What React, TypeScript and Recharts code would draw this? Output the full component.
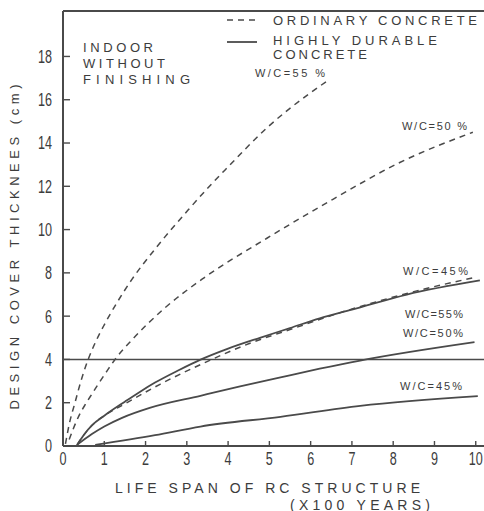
import React from "react";
import { LineChart, Line, XAxis, YAxis, ReferenceLine, Customized } from "recharts";

// life span (x100 years) vs design cover thickness (cm)
const xTicks = [0, 1, 2, 3, 4, 5, 6, 7, 8, 9, 10];
const yTicks = [0, 2, 4, 6, 8, 10, 12, 14, 16, 18];
const requiredCover = 4;

const ordinary55: [number, number][] = [
  [0.06, 0.1], [0.15, 1.0], [0.29, 2.0], [0.45, 3.1], [0.61, 4.0], [0.8, 4.85],
  [1.0, 5.6], [1.3, 6.6], [1.67, 7.7], [2.23, 9.1], [3.03, 10.9], [3.62, 12.15],
  [4.0, 12.9], [4.94, 14.7], [5.98, 16.3], [6.39, 16.85],
];
const ordinary50: [number, number][] = [
  [0.15, 0.3], [0.25, 0.8], [0.4, 1.45], [0.55, 1.95], [0.7, 2.4], [0.85, 2.85],
  [1.06, 3.45], [1.26, 4.0], [1.67, 4.9], [2.48, 6.4], [3.4, 7.75], [4.94, 9.6],
  [6.54, 11.4], [8.16, 13.1], [9.93, 14.5],
];
const ordinary45: [number, number][] = [
  [0.34, 0.05], [0.5, 0.5], [0.7, 0.95], [1.0, 1.4], [1.5, 1.95], [2.35, 2.85],
  [3.49, 3.9], [4.53, 4.75], [5.5, 5.38], [6.7, 6.15], [8.33, 7.05], [10.0, 7.8],
];
const durable55: [number, number][] = [
  [0.34, 0.05], [0.5, 0.5], [0.7, 0.95], [1.0, 1.4], [1.5, 2.05], [1.86, 2.5],
  [2.23, 2.93], [2.8, 3.5], [3.32, 3.98], [4.0, 4.5], [4.77, 5.0], [5.5, 5.45],
  [6.22, 5.9], [7.0, 6.3], [8.33, 7.0], [10.1, 7.65],
];
const durable50: [number, number][] = [
  [0.34, 0.05], [0.7, 0.55], [1.0, 0.9], [1.43, 1.3], [2.1, 1.76], [3.33, 2.32],
  [4.29, 2.75], [5.27, 3.17], [6.22, 3.57], [7.2, 3.95], [9.97, 4.8],
];
const durable45: [number, number][] = [
  [0.78, 0.05], [2.23, 0.5], [3.33, 0.9], [5.27, 1.35], [7.2, 1.85], [10.05, 2.3],
];

const series = [
  { key: "ord55", pts: ordinary55, dashed: true },
  { key: "ord50", pts: ordinary50, dashed: true },
  { key: "ord45", pts: ordinary45, dashed: true },
  { key: "dur55", pts: durable55, dashed: false },
  { key: "dur50", pts: durable50, dashed: false },
  { key: "dur45", pts: durable45, dashed: false },
];

const INK = "#3c3c3c";
const LINE = "#4a4a4a";
const FONT = "'Liberation Sans', Arial, sans-serif";

function XTick({ x, y, payload }: any) {
  const s = String(payload.value);
  return (
    <text x={x} y={y} dy="0.71em" textAnchor="middle" fontSize={18} fontFamily={FONT} fill={INK}
      textLength={s.length * 7} lengthAdjust="spacingAndGlyphs">
      {s}
    </text>
  );
}

function YTick({ x, y, payload }: any) {
  const s = String(payload.value);
  return (
    <text x={x} y={y} dy="0.355em" textAnchor="end" fontSize={18} fontFamily={FONT} fill={INK}
      textLength={s.length * 7} lengthAdjust="spacingAndGlyphs">
      {s}
    </text>
  );
}

function T({ x, y, w, size = 14, children }: any) {
  return (
    <text x={x} y={y} fontSize={size} fontFamily={FONT} fill={INK} textLength={w}
      lengthAdjust="spacing">
      {children}
    </text>
  );
}

function Annotations() {
  return (
    <g>
      {/* legend */}
      <line x1={227} x2={257} y1={20} y2={20} stroke={LINE} strokeWidth={1.6} strokeDasharray="6 5" />
      <T x={273} y={25} w={204} size={13}>ORDINARY CONCRETE</T>
      <line x1={227} x2={257} y1={42} y2={42} stroke={LINE} strokeWidth={1.8} />
      <T x={273} y={45} w={164} size={13}>HIGHLY DURABLE</T>
      <T x={273} y={59} w={94} size={13}>CONCRETE</T>

      <T x={83} y={52} w={70} size={13}>INDOOR</T>
      <T x={83} y={68} w={82} size={13}>WITHOUT</T>
      <T x={83} y={84} w={107} size={13}>FINISHING</T>

      <T x={255} y={77} w={70} size={11}>W/C=55 %</T>
      <T x={402} y={130} w={65} size={11}>W/C=50 %</T>
      <T x={403} y={275} w={65} size={11}>W/C=45%</T>
      <T x={405} y={318} w={58} size={11}>W/C=55%</T>
      <T x={403} y={337} w={60} size={11}>W/C=50%</T>
      <T x={400} y={390} w={62} size={11}>W/C=45%</T>

      {/* axis titles */}
      <text x={0} y={0} transform="translate(19 247) rotate(-90)" textAnchor="middle" fontSize={13}
        fontFamily={FONT} fill={INK} textLength={325} lengthAdjust="spacing">
        DESIGN COVER THICKNEES (cm)
      </text>
      <T x={115} y={493} w={305}>LIFE SPAN OF RC STRUCTURE</T>
      <T x={290} y={510} w={140}>(X100 YEARS)</T>
    </g>
  );
}

export default function App() {
  return (
    <div style={{ position: "absolute", left: 0, top: 0, width: 484, height: 511, background: "#fff" }}>
      <LineChart width={484} height={511} margin={{ top: 11, right: 0, bottom: 0, left: 0 }}>
        <XAxis
          type="number"
          dataKey="t"
          domain={[0, 10.2]}
          ticks={xTicks}
          allowDataOverflow
          height={65}
          axisLine={{ stroke: LINE, strokeWidth: 2 }}
          tickLine={{ stroke: LINE, strokeWidth: 1.4 }}
          tickSize={-5}
          tickMargin={11}
          tick={<XTick />}
        />
        <YAxis
          type="number"
          domain={[0, 20.1]}
          ticks={yTicks}
          allowDataOverflow
          width={63}
          axisLine={{ stroke: LINE, strokeWidth: 2 }}
          tickLine={{ stroke: LINE, strokeWidth: 1.4 }}
          tickSize={-7}
          tickMargin={18}
          tick={<YTick />}
        />
        <ReferenceLine y={20.1} stroke={LINE} strokeWidth={2} />
        <ReferenceLine y={requiredCover} stroke={LINE} strokeWidth={1.6} />
        {series.map((s) => (
          <Line
            key={s.key}
            data={s.pts.map(([t, c]) => ({ t, c }))}
            dataKey="c"
            type="monotone"
            stroke={LINE}
            strokeWidth={s.dashed ? 1.5 : 1.8}
            strokeDasharray={s.dashed ? "6 5" : undefined}
            dot={false}
            isAnimationActive={false}
          />
        ))}
        <Customized component={Annotations} />
      </LineChart>
    </div>
  );
}
